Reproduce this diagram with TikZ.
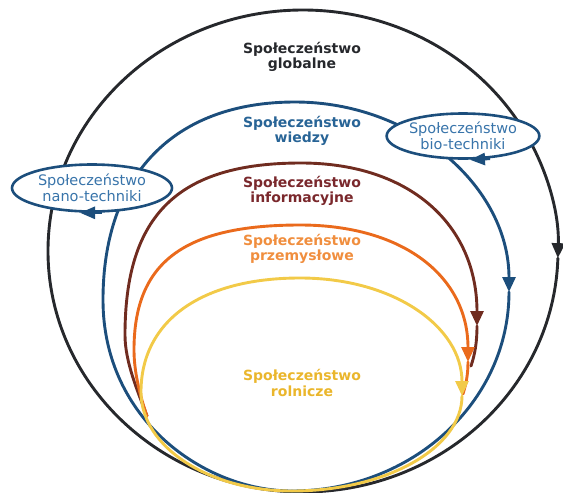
\documentclass[tikz,border=0pt]{standalone}
\usepackage{fontspec}
\setmainfont{DejaVu Sans}
\usepackage{tikz}
\usetikzlibrary{arrows.meta,shapes.geometric}
\definecolor{globalcolor}{RGB}{38,40,44}
\definecolor{knowcolor}{RGB}{28,78,124}
\definecolor{knowtext}{RGB}{40,100,150}
\definecolor{infocolor}{RGB}{112,44,32}
\definecolor{infotext}{RGB}{122,40,44}
\definecolor{indcolor}{RGB}{234,106,28}
\definecolor{indtext}{RGB}{240,142,62}
\definecolor{agrocolor}{RGB}{242,202,72}
\definecolor{agrotext}{RGB}{234,182,44}
\definecolor{techtext}{RGB}{56,116,170}
\tikzset{
  ringline/.style={line width=2.9pt,line cap=round},
  ringarrow/.style={-{Triangle[length=15pt,width=13pt]}},
  ringlabel/.style={align=center,inner sep=0pt,
    font=\fontsize{14}{15.5}\selectfont\bfseries},
  techbubble/.style={ellipse,draw=knowcolor,fill=white,line width=2.6pt,inner sep=0pt,
    align=center,text=techtext,font=\fontsize{14.5}{16}\selectfont},
  bubblearrow/.style={-{Triangle[length=15pt,width=12pt]},draw=knowcolor,line width=2.6pt},
}

\begin{document}
\begin{tikzpicture}[x=1pt,y=-1pt]
  \useasboundingbox (0,0) rectangle (563,493);
  % globalne
  \draw[ringline,globalcolor,ringarrow] (303,492)
    arc[start angle=90,end angle=361.7,x radius=255,y radius=241] coordinate (gtip);
  \draw[ringline,globalcolor] (gtip) arc[start angle=1.7,end angle=90,x radius=255,y radius=241];
  % wiedzy
  \draw[ringline,knowcolor,ringarrow] (292,491) .. controls (205,491) and (103,420) .. (103,300)
    .. controls (103,175) and (174,102) .. (295,102)
    .. controls (413,102) and (509,187) .. (509,292) coordinate (wtip);
  \draw[ringline,knowcolor] (wtip) .. controls (509,402) and (412,491) .. (292,491);
  % informacyjne
  \draw[ringline,infocolor,ringarrow] (147,416) .. controls (138,392) and (125,362) .. (125,335)
    .. controls (125,215) and (178,163) .. (301,163)
    .. controls (410,163) and (477,225) .. (477,326) coordinate (itip);
  \draw[ringline,infocolor] (itip) .. controls (477,342) and (475,354) .. (471,366);
  % przemyslowe
  \draw[ringline,indcolor,ringarrow] (147,416) .. controls (140,396) and (134,372) .. (134,350)
    .. controls (134,262) and (184,225) .. (300,225)
    .. controls (404,225) and (468,277) .. (468,362) coordinate (ptip);
  \draw[ringline,indcolor] (ptip) .. controls (468,375) and (466,384) .. (463,394);
  % rolnicze
  \draw[ringline,agrocolor,ringarrow] (292,491) .. controls (209,491) and (141,447) .. (141,392)
    .. controls (141,321) and (201,278) .. (300,278)
    .. controls (394,278) and (462,327) .. (462,396) coordinate (rtip);
  \draw[ringline,agrocolor] (rtip) .. controls (462,448) and (386,491) .. (292,491);

  \node[ringlabel,text=globalcolor] (glob) at (302,57) {Społeczeństwo\\globalne};
  \node[ringlabel,text=knowtext] (know) at (302,131) {Społeczeństwo\\wiedzy};
  \node[ringlabel,text=infotext] (info) at (302,191) {Społeczeństwo\\informacyjne};
  \node[ringlabel,text=indtext] (ind) at (302,249) {Społeczeństwo\\przemysłowe};
  \node[ringlabel,text=agrotext] (agro) at (302,383) {Społeczeństwo\\rolnicze};

  \node[techbubble,minimum width=160pt,minimum height=47pt] (nano) at (92,188)
    {Społeczeństwo\\nano-techniki};
  \node[techbubble,minimum width=150pt,minimum height=45pt] (bio) at (463,136)
    {Społeczeństwo\\bio-techniki};
  \draw[bubblearrow] ([xshift=10pt]nano.south) -- ([xshift=-12pt]nano.south);
  \draw[bubblearrow] ([xshift=27pt,yshift=1pt]bio.south) -- ([xshift=7pt]bio.south);
\end{tikzpicture}
\end{document}
